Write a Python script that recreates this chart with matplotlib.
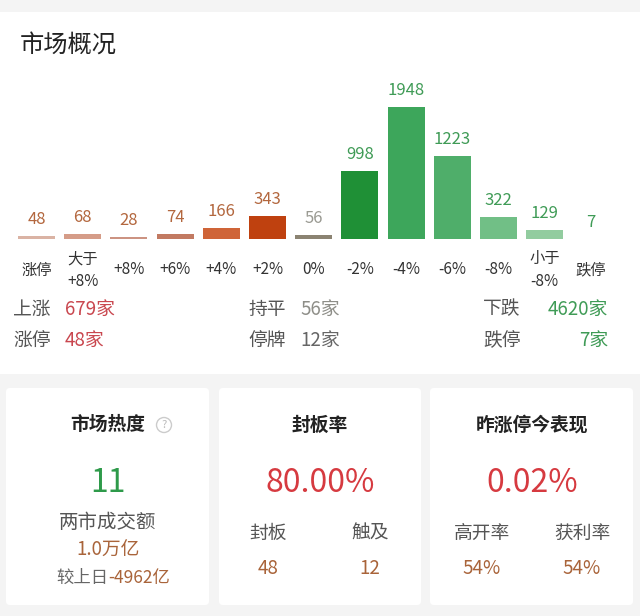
import matplotlib
matplotlib.use("Agg")
import matplotlib.pyplot as plt
from matplotlib.patches import FancyBboxPatch, Rectangle, Circle

plt.rcParams['font.family'] = ['Noto Sans CJK SC', 'DejaVu Sans']

# --- data ---
categories = ['涨停', '大于\n+8%', '+8%', '+6%', '+4%', '+2%', '0%',
              '-2%', '-4%', '-6%', '-8%', '小于\n-8%', '跌停']
counts = [48, 68, 28, 74, 166, 343, 56, 998, 1948, 1223, 322, 129, 7]
bar_colors = ['#dab3a4', '#d59c88', '#cc9382', '#c27a62', '#cf6438', '#bf410f',
              '#8b8372', '#1f9036', '#3da65b', '#4fae6a', '#71bf86', '#92cc9f', '#cfe4d3']
label_colors = ['#b3673e'] * 6 + ['#9a9a92'] + ['#3f9b56'] * 6

summary_left = [('上涨', '679家'), ('涨停', '48家')]
summary_mid = [('持平', '56家'), ('停牌', '12家')]
summary_right = [('下跌', '4620家'), ('跌停', '7家')]

heat_value = '11'
turnover = '1.0万亿'
turnover_change = '-4962亿'
seal_rate = '80.00%'
seal_items = [('封板', '48'), ('触及', '12')]
prev_limit_perf = '0.02%'
prev_items = [('高开率', '54%'), ('获利率', '54%')]

W, H = 640, 616
fig = plt.figure(figsize=(W / 100, H / 100), dpi=100, facecolor='#f4f4f4')

# background layer in pixel coordinates
bg = fig.add_axes([0, 0, 1, 1], zorder=0)
bg.set_xlim(0, W)
bg.set_ylim(H, 0)
bg.axis('off')
bg.add_patch(Rectangle((0, 12), W, 362, facecolor='white', edgecolor='none'))
for x0, x1 in [(6, 209), (219, 421), (430, 633)]:
    bg.add_patch(FancyBboxPatch((x0, 388), x1 - x0, 217,
                                boxstyle='round,pad=0,rounding_size=4',
                                facecolor='white', edgecolor='none'))

bg.text(20, 45, '市场概况', fontsize=17.5, color='#222222', va='center', ha='left')

# summary rows
red, green, gray_num = '#c9474f', '#3f9b56', '#8e8e88'
lab_col = '#555555'
for i, (k, v) in enumerate(summary_left):
    y = 309 + i * 31
    bg.text(13, y, k, fontsize=13.5, color=lab_col, va='center')
    bg.text(65, y, v, fontsize=13.5, color=red, va='center')
for i, (k, v) in enumerate(summary_mid):
    y = 309 + i * 31
    bg.text(248, y, k, fontsize=13.5, color=lab_col, va='center')
    bg.text(300, y, v, fontsize=13.5, color=gray_num if i == 0 else '#666666', va='center')
for i, (k, v) in enumerate(summary_right):
    y = 309 + i * 31
    bg.text(483, y, k, fontsize=13.5, color=lab_col, va='center')
    bg.text(608, y, v, fontsize=13.5, color=green, va='center', ha='right')

# cards
title_col = '#222222'
brown = '#a9643a'
bg.text(108, 425, '市场热度', fontsize=13.5, color=title_col, weight=600,
        ha='center', va='center')
bg.add_patch(Circle((164, 425), 7.5, facecolor='none', edgecolor='#cccccc', lw=1))
bg.text(164, 425, '?', fontsize=8, color='#bbbbbb', ha='center', va='center')
bg.text(108, 483, heat_value, fontsize=23, color='#2e9a4a', ha='center', va='center')
bg.text(108, 523, '两市成交额', fontsize=14, color=lab_col, ha='center', va='center')
bg.text(108, 550, turnover, fontsize=13.5, color=brown, ha='center', va='center')
t1 = bg.text(108, 578, '较上日', fontsize=12.5, color='#666666', ha='right', va='center')
bg.annotate(turnover_change, xycoords=t1, xy=(1, 0.5), va='center', ha='left',
            fontsize=12.5, color=brown)

bg.text(320, 425, '封板率', fontsize=13.5, color=title_col, weight=600,
        ha='center', va='center')
bg.text(320, 483, seal_rate, fontsize=23, color='#d63a40', ha='center', va='center')
for (k, v), x in zip(seal_items, [268, 370]):
    bg.text(x, 533, k, fontsize=13.5, color=lab_col, ha='center', va='center')
    bg.text(x, 568, v, fontsize=13.5, color=brown, ha='center', va='center')

bg.text(532, 425, '昨涨停今表现', fontsize=13.5, color=title_col, weight=600,
        ha='center', va='center')
bg.text(532, 483, prev_limit_perf, fontsize=23, color='#d63a40', ha='center', va='center')
for (k, v), x in zip(prev_items, [482, 582]):
    bg.text(x, 533, k, fontsize=13.5, color=lab_col, ha='center', va='center')
    bg.text(x, 568, v, fontsize=13.5, color=brown, ha='center', va='center')

# bar chart: baseline at y=239px, 1948 reaches y=107px
pitch = 46.2
left_px = 36.5 - pitch / 2
n = len(counts)
ax = fig.add_axes([left_px / W, (H - 239) / H, n * pitch / W, 149 / H], zorder=1)
ax.set_xlim(-0.5, n - 0.5)
ax.set_ylim(0, 1948 * 149 / 132)
ax.axis('off')
ax.patch.set_alpha(0)
ax.bar(range(n), counts, width=37 / pitch, color=bar_colors)
for i, (c, lc) in enumerate(zip(counts, label_colors)):
    ax.annotate(str(c), xy=(i, c), xytext=(0, 12 * 0.72), textcoords='offset points',
                ha='center', va='baseline', fontsize=12, color=lc, annotation_clip=False)
for i, cat in enumerate(categories):
    ax.annotate(cat, xy=(i, 0), xytext=(0, -31 * 0.72), textcoords='offset points',
                ha='center', va='center', fontsize=11, color='#333333',
                linespacing=1.4, annotation_clip=False)

fig.savefig('out.png', dpi=100, facecolor=fig.get_facecolor())
